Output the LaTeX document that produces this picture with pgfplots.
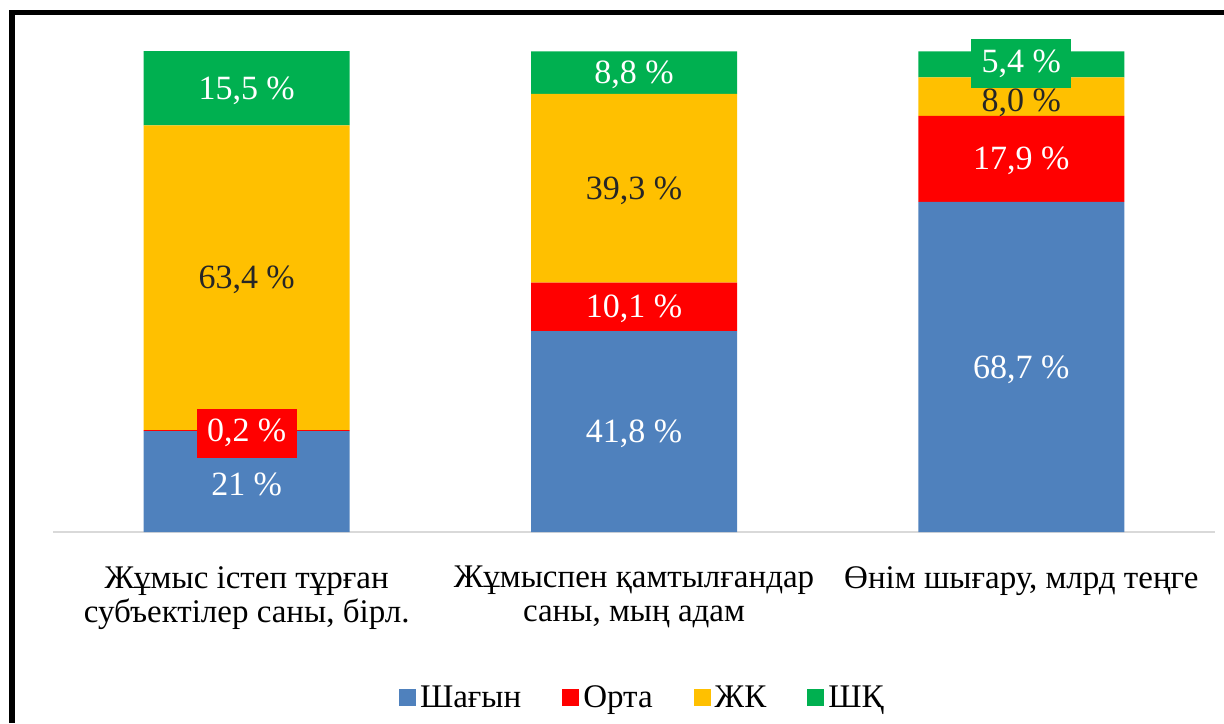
\documentclass[border=0pt]{standalone}
\usepackage{pgfplots}
\pgfplotsset{compat=1.18}
\usepackage{fontspec}
\setmainfont{Liberation Serif}
\definecolor{cBlue}{HTML}{4F81BD}
\definecolor{cRed}{HTML}{FF0000}
\definecolor{cYel}{HTML}{FFC000}
\definecolor{cGrn}{HTML}{00B050}
\begin{document}
\begin{tikzpicture}
\fill[black] (-21.8pt,-95.5pt) rectangle (-19pt,261pt);
\fill[black] (-21.8pt,258.5pt) rectangle (585.5pt,261pt);
\begin{axis}[
  at={(0,0)}, anchor=south west,
  scale only axis, width=581pt, height=240.5pt,
  xmin=-0.5, xmax=2.5, ymin=0, ymax=100.1,
  ybar stacked, bar width=103pt,
  axis y line=none, axis x line=bottom,
  x axis line style={-, draw=black!15, line width=1pt},
  xtick={0,1,2},
  xticklabels={{Жұмыс істеп тұрған\\субъектілер саны, бірл.},{Жұмыспен қамтылғандар\\саны, мың адам},{Өнім шығару, млрд теңге}},
  xtick style={draw=none},
  xticklabel style={align=center, font=\fontsize{16.5}{17}\selectfont, yshift=-11.5pt},
  legend style={at={(0.508,-0.345)}, anchor=center, legend columns=4, draw=none,
    font=\fontsize{16.5}{17}\selectfont,
    /tikz/every even column/.append style={column sep=18.5pt},
    nodes={inner xsep=2pt}},
  legend image code/.code={\fill[#1] (0pt,-4.25pt) rectangle (8.5pt,4.25pt);},
]
\addplot[fill=cBlue, draw=none] coordinates {(0,21) (1,41.8) (2,68.7)};
\addplot[fill=cRed, draw=none] coordinates {(0,0.2) (1,10.1) (2,17.9)};
\addplot[fill=cYel, draw=none] coordinates {(0,63.4) (1,39.3) (2,8.0)};
\addplot[fill=cGrn, draw=none] coordinates {(0,15.5) (1,8.8) (2,5.4)};
\legend{Шағын, Орта, ЖК, ШҚ}
\end{axis}
\begin{axis}[
  at={(0,0)}, anchor=south west,
  scale only axis, width=581pt, height=240.5pt,
  xmin=-0.5, xmax=2.5, ymin=0, ymax=100.1,
  hide axis, clip=false,
  nodes near coords, point meta=explicit symbolic,
  nodes near coords align={center},
  every node near coord/.append style={anchor=center, yshift=-1.2pt, font=\fontsize{17}{17}\selectfont},
]
\addplot[draw=none, mark=none, every node near coord/.append style={text=white}] coordinates {(0,10.5)[21 \%] (1,20.9)[41,8 \%] (2,34.35)[68,7 \%] (1,46.85)[10,1 \%] (2,77.65)[17,9 \%] (0,92.35)[15,5 \%] (1,95.6)[8,8 \%]};
\addplot[draw=none, mark=none, every node near coord/.append style={text=black!85}] coordinates {(0,52.9)[63,4 \%] (1,71.45)[39,3 \%] (2,89.8)[8,0 \%]};
\addplot[draw=none, mark=none, every node near coord/.append style={text=white, fill=cRed, minimum width=50pt, minimum height=24.5pt}] coordinates {(0,21.1)[0,2 \%]};
\addplot[draw=none, mark=none, every node near coord/.append style={text=white, fill=cGrn, minimum width=50pt, minimum height=24.5pt}] coordinates {(2,98)[5,4 \%]};
\end{axis}
\pgfresetboundingbox
\path[use as bounding box] (-26.5pt,-95.5pt) rectangle (585.5pt,266pt);
\end{tikzpicture}
\end{document}
